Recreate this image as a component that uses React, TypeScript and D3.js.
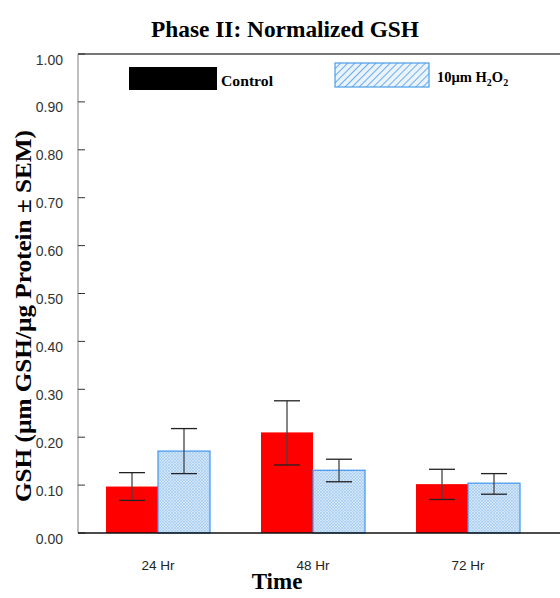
import React from "react";
import * as d3 from "d3";

const categories = ["24 Hr", "48 Hr", "72 Hr"];
const seriesNames = ["Control", "10µm H2O2"];
const controlValues = [0.097, 0.210, 0.102];
const controlErrHigh = [0.126, 0.276, 0.133];
const controlErrLow = [0.068, 0.142, 0.070];
const h2o2Values = [0.171, 0.131, 0.104];
const h2o2ErrHigh = [0.218, 0.154, 0.124];
const h2o2ErrLow = [0.124, 0.107, 0.081];
const yTicks = [0, 0.1, 0.2, 0.3, 0.4, 0.5, 0.6, 0.7, 0.8, 0.9, 1.0];

const W = 560;
const H = 598;
const left = 78;
const top = 54;
const bottom = 533;

export default function App() {
  const y = d3.scaleLinear().domain([0, 1]).range([bottom, top]);
  const x = d3.scaleBand().domain(categories).range([80.5, 545.5]).paddingInner(0).paddingOuter(0);
  const inner = d3.scaleBand().domain(["c", "h"]).range([0, 104]);
  const sans = "'Liberation Sans', Arial, sans-serif";
  const serif = "'Liberation Serif', 'Times New Roman', serif";
  const series = [
    { key: "c", vals: controlValues, hi: controlErrHigh, lo: controlErrLow },
    { key: "h", vals: h2o2Values, hi: h2o2ErrHigh, lo: h2o2ErrLow },
  ];
  return (
    <svg width={W} height={H} style={{ position: "absolute", left: 0, top: 0, background: "#fff" }}>
      <defs>
        <pattern id="cross" width="3" height="3" patternUnits="userSpaceOnUse">
          <rect width="3" height="3" fill="#d3e6f8" />
          <path d="M0,0 L3,3 M3,0 L0,3" stroke="#9cc6ef" strokeWidth="0.6" />
        </pattern>
        <pattern id="diag" width="5" height="5" patternUnits="userSpaceOnUse" patternTransform="rotate(45)">
          <rect width="5" height="5" fill="#eaf3fc" />
          <line x1="0" y1="0" x2="0" y2="5" stroke="#4a9de6" strokeWidth="1.6" />
        </pattern>
      </defs>
      <text x={151} y={37} textLength={268} lengthAdjust="spacingAndGlyphs" fontFamily={serif} fontWeight="bold" fontSize={24}>
        Phase II: Normalized GSH
      </text>
      {/* top border */}
      <line x1={left} x2={W} y1={top} y2={top} stroke="#777" strokeWidth={2} />
      {/* y axis */}
      <line x1={left} x2={left} y1={top} y2={bottom} stroke="#aaa" strokeWidth={1.5} />
      {yTicks.map((t) => (
        <g key={t}>
          <line x1={left} x2={left + 7} y1={y(t)} y2={y(t)} stroke="#333" strokeWidth={1} />
          <text x={63} y={y(t) + 10.5} textAnchor="end" fontFamily={sans} fontSize={14} fill="#333">
            {t.toFixed(2)}
          </text>
        </g>
      ))}
      {/* bars */}
      {categories.map((cat, i) => (
        <g key={cat} transform={`translate(${x(cat)! + (x.bandwidth() - 104) / 2},0)`}>
          {series.map((s) => {
            const bx = inner(s.key)!;
            const bw = inner.bandwidth();
            const cx = bx + bw / 2;
            return (
              <g key={s.key}>
                <rect
                  x={bx}
                  y={y(s.vals[i])}
                  width={bw}
                  height={bottom - y(s.vals[i])}
                  fill={s.key === "c" ? "#ff0000" : "url(#cross)"}
                  stroke={s.key === "c" ? "#ff0000" : "#3d95ee"}
                  strokeWidth={s.key === "c" ? 0 : 1.2}
                />
                <line x1={cx} x2={cx} y1={y(s.hi[i])} y2={y(s.lo[i])} stroke="#444" strokeWidth={1.3} />
                <line x1={cx - 13} x2={cx + 13} y1={y(s.hi[i])} y2={y(s.hi[i])} stroke="#222" strokeWidth={1.3} />
                <line x1={cx - 13} x2={cx + 13} y1={y(s.lo[i])} y2={y(s.lo[i])} stroke="#222" strokeWidth={1.3} />
              </g>
            );
          })}
          <text x={52} y={570} textAnchor="middle" fontFamily={sans} fontSize={13.5} fill="#222">
            {cat}
          </text>
        </g>
      ))}
      {/* x axis */}
      <line x1={left} x2={W} y1={bottom} y2={bottom} stroke="#111" strokeWidth={1.5} />
      <text x={277} y={589} textAnchor="middle" fontFamily={serif} fontWeight="bold" fontSize={23}>
        Time
      </text>
      <text
        transform={`translate(31,316) rotate(-90)`}
        x={-186}
        textLength={372}
        lengthAdjust="spacingAndGlyphs"
        fontFamily={serif}
        fontWeight="bold"
        fontSize={24}
      >
        GSH (µm GSH/µg Protein ± SEM)
      </text>
      {/* legend */}
      <rect x={129} y={67} width={88} height={23} fill="#000" />
      <text x={221} y={86} textLength={52} lengthAdjust="spacingAndGlyphs" fontFamily={serif} fontWeight="bold" fontSize={15}>
        {seriesNames[0]}
      </text>
      <rect x={335} y={63} width={94} height={24} fill="url(#diag)" stroke="#4a9de6" strokeWidth={1.2} />
      <text x={437} y={82} fontFamily={serif} fontWeight="bold" fontSize={14.5}>
        10µm H
        <tspan fontSize={10} dy={4}>2</tspan>
        <tspan dy={-4}>O</tspan>
        <tspan fontSize={10} dy={4}>2</tspan>
      </text>
    </svg>
  );
}
